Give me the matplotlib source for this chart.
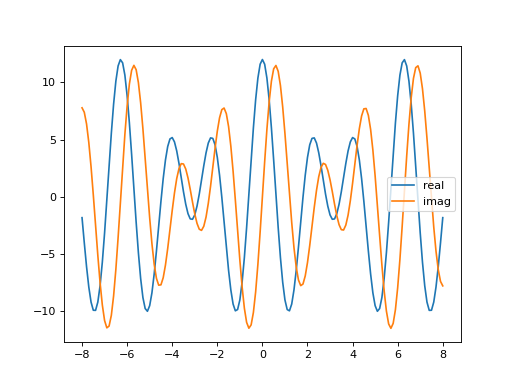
import numpy as np
import matplotlib
matplotlib.use("Agg")
import matplotlib.pyplot as plt

x_min = -8.0
x_max = 8.0

real = [
    -1.82, -4.02, -6.10, -7.88, -9.20, -9.91, -9.92, -9.20, -7.77, -5.71,
    -3.15, -0.28, 2.70, 5.57, 8.10, 10.11, 11.44, 11.99, 11.71, 10.64,
    8.84, 6.46, 3.69, 0.72, -2.21, -4.89, -7.14, -8.80, -9.76, -10.00,
    -9.51, -8.39, -6.74, -4.74, -2.56, -0.39, 1.59, 3.22, 4.40, 5.06,
    5.18, 4.80, 4.01, 2.92, 1.68, 0.44, -0.65, -1.47, -1.93, -1.96,
    -1.58, -0.81, 0.24, 1.47, 2.72, 3.84, 4.70, 5.15, 5.11, 4.55,
    3.45, 1.89, -0.04, -2.19, -4.38, -6.43, -8.14, -9.37, -9.96, -9.85,
    -9.01, -7.46, -5.31, -2.68, 0.22, 3.20, 6.02, 8.48, 10.38, 11.59,
    12.00,
    11.59, 10.38, 8.48, 6.02, 3.20, 0.22, -2.68, -5.31, -7.46, -9.01,
    -9.85, -9.96, -9.37, -8.14, -6.43, -4.38, -2.19, -0.04, 1.89, 3.45,
    4.55, 5.11, 5.15, 4.70, 3.84, 2.72, 1.47, 0.24, -0.81, -1.58,
    -1.96, -1.93, -1.47, -0.65, 0.44, 1.68, 2.92, 4.01, 4.80, 5.18,
    5.06, 4.40, 3.22, 1.59, -0.39, -2.56, -4.74, -6.74, -8.39, -9.51,
    -10.00, -9.76, -8.80, -7.14, -4.89, -2.21, 0.72, 3.69, 6.46, 8.84,
    10.64, 11.71, 11.99, 11.44, 10.11, 8.10, 5.57, 2.70, -0.28, -3.15,
    -5.71, -7.77, -9.20, -9.92, -9.91, -9.20, -7.88, -6.10, -4.02, -1.82,
]

imag = [
    7.78, 7.39, 6.37, 4.75, 2.63, 0.16, -2.49, -5.11, -7.50, -9.45,
    -10.81, -11.45, -11.29, -10.35, -8.66, -6.34, -3.56, -0.52, 2.56, 5.45,
    7.94, 9.86, 11.06, 11.49, 11.11, 9.98, 8.21, 5.95, 3.38, 0.72,
    -1.83, -4.09, -5.89, -7.12, -7.72, -7.69, -7.07, -5.96, -4.51, -2.86,
    -1.19, 0.34, 1.60, 2.47, 2.90, 2.87, 2.43, 1.65, 0.64, -0.46,
    -1.49, -2.32, -2.83, -2.93, -2.57, -1.77, -0.57, 0.92, 2.58, 4.24,
    5.74, 6.91, 7.62, 7.76, 7.27, 6.14, 4.43, 2.24, -0.28, -2.94,
    -5.53, -7.86, -9.73, -10.97, -11.48, -11.19, -10.11, -8.31, -5.90, -3.06,
    0.00,
    3.06, 5.90, 8.31, 10.11, 11.19, 11.48, 10.97, 9.73, 7.86, 5.53,
    2.94, 0.28, -2.24, -4.43, -6.14, -7.27, -7.76, -7.62, -6.91, -5.74,
    -4.24, -2.58, -0.92, 0.57, 1.77, 2.57, 2.93, 2.83, 2.32, 1.49,
    0.46, -0.64, -1.65, -2.43, -2.87, -2.90, -2.47, -1.60, -0.34, 1.19,
    2.86, 4.51, 5.96, 7.07, 7.69, 7.72, 7.12, 5.89, 4.09, 1.83,
    -0.72, -3.38, -5.95, -8.21, -9.98, -11.11, -11.49, -11.06, -9.86, -7.94,
    -5.45, -2.56, 0.52, 3.56, 6.34, 8.66, 10.35, 11.29, 11.45, 10.81,
    9.45, 7.50, 5.11, 2.49, -0.16, -2.63, -4.75, -6.37, -7.39, -7.78,
]

labels = ["real", "imag"]

x = np.linspace(x_min, x_max, len(real))

fig, ax = plt.subplots(figsize=(6.4, 4.8), dpi=80)
ax.plot(x, real, label=labels[0])
ax.plot(x, imag, label=labels[1])
ax.legend(loc="center right")
fig.savefig("out.png")
